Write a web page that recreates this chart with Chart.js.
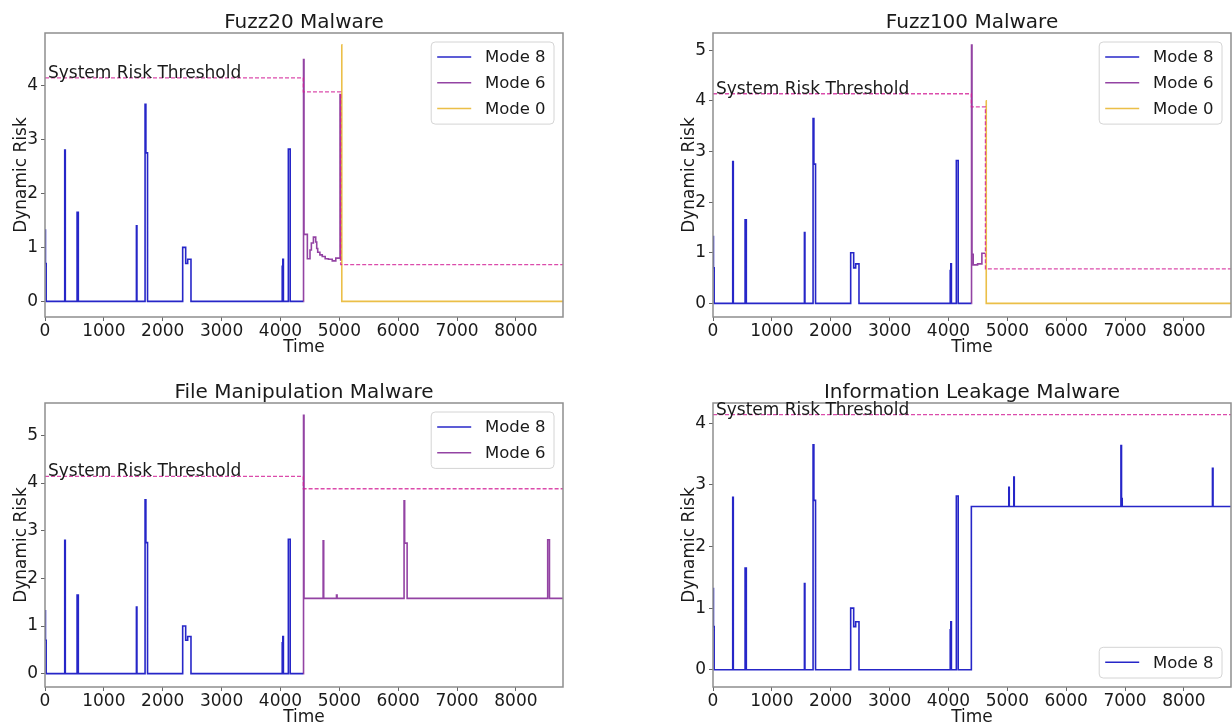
<!DOCTYPE html>
<html lang="en">
<head>
<meta charset="UTF-8">
<title>Dynamic Risk per Malware Type</title>
<script src="https://cdn.jsdelivr.net/npm/chart.js"></script>
<style>
  html, body { margin: 0; padding: 0; background: #fff; overflow: hidden; }
  .panel { position: absolute; width: 564px; height: 356px; }
</style>
</head>
<body>
<div class="panel" style="left:0;top:0"><canvas id="fuzz20" width="564" height="356"></canvas></div>
<div class="panel" style="left:668px;top:0"><canvas id="fuzz100" width="564" height="356"></canvas></div>
<div class="panel" style="left:0;top:370px"><canvas id="fileManip" width="564" height="356"></canvas></div>
<div class="panel" style="left:668px;top:370px"><canvas id="infoLeak" width="564" height="356"></canvas></div>

<script>
// --- shared axis settings ---
const xTicks = [0, 1000, 2000, 3000, 4000, 5000, 6000, 7000, 8000];
const xMax = 8800;

// --- Mode 8 trace, same for every run up to the mode switch (step values: y holds from t until next t) ---
const mode8T = [0, 8, 20, 335, 345, 545, 566, 1553, 1562, 1700, 1714, 1742, 2339, 2390, 2424, 2480, 4030, 4040, 4050, 4134, 4166, 4389];
const mode8Y = [1.32, 0.7, 0, 2.8, 0, 1.65, 0, 1.4, 0, 3.65, 2.75, 0, 1.0, 0.7, 0.78, 0, 0.65, 0.78, 0, 2.82, 0, 0];

// --- Fuzz20 ---
const fuzz20Mode6T = [4389, 4392, 4400, 4457, 4502, 4525, 4560, 4599, 4616, 4633, 4670, 4710, 4760, 4815, 4880, 4940, 5012, 5022];
const fuzz20Mode6Y = [0, 4.48, 1.24, 0.79, 0.95, 1.08, 1.19, 1.1, 0.98, 0.91, 0.86, 0.83, 0.79, 0.78, 0.75, 0.8, 3.83, 0.75];
const fuzz20Mode0T = [5034, 5042, 8800];
const fuzz20Mode0Y = [4.75, 0, 0];
const fuzz20ThreshT = [0, 4389, 5022, 8800];
const fuzz20ThreshY = [4.14, 3.88, 0.68, 0.68];

// --- Fuzz100 ---
const fuzz100Mode6T = [4389, 4392, 4400, 4420, 4495, 4568, 4622];
const fuzz100Mode6Y = [0, 5.1, 0.97, 0.76, 0.78, 0.99, 0.99];
const fuzz100Mode0T = [4634, 4642, 8800];
const fuzz100Mode0Y = [4.0, 0, 0];
const fuzz100ThreshT = [0, 4389, 4628, 8800];
const fuzz100ThreshY = [4.14, 3.88, 0.68, 0.68];

// --- File manipulation ---
const fileMode6T = [4389, 4392, 4400, 4725, 4735, 4952, 4962, 6100, 6110, 6152, 8540, 8570, 8800];
const fileMode6Y = [0, 5.42, 1.58, 2.79, 1.58, 1.65, 1.58, 3.63, 2.74, 1.58, 2.81, 1.58, 1.58];
const fileThreshT = [0, 4389, 8800];
const fileThreshY = [4.14, 3.88, 3.88];

// --- Information leakage: Mode 8 keeps running after 4389 ---
const leakTailT = [4389, 5025, 5033, 5110, 5118, 6930, 6940, 6952, 8485, 8495, 8800];
const leakTailY = [2.65, 2.96, 2.65, 3.13, 2.65, 3.64, 2.78, 2.65, 3.27, 2.65, 2.65];
const leakThreshT = [0, 8800];
const leakThreshY = [4.14, 4.14];

const MODE8 = 'rgba(0, 0, 190, 0.85)';
const MODE6 = 'rgba(120, 20, 140, 0.8)';
const MODE0 = 'rgba(232, 180, 40, 0.85)';
const THRESH = 'rgba(210, 30, 150, 0.8)';
const FONT = '"DejaVu Sans", sans-serif';
const TEXT = '#1a1a1a';

Chart.defaults.font.family = FONT;

function pts(t, y) {
  return t.map((v, i) => ({ x: v, y: y[i] }));
}

function series(label, t, y, color, order) {
  return { label, data: pts(t, y), borderColor: color, borderWidth: 1.6, stepped: true,
           pointRadius: 0, fill: false, order };
}

function threshold(t, y) {
  return { label: 'threshold', data: pts(t, y), borderColor: THRESH, borderWidth: 1.3,
           borderDash: [4, 2], stepped: true, pointRadius: 0, fill: false, order: 0 };
}

// frame, title, threshold caption and in-axes legend
const panelDecor = {
  id: 'panelDecor',
  afterDatasetsDraw(chart, args, opts) {
    const { ctx, chartArea: a, scales } = chart;
    ctx.save();
    ctx.strokeStyle = '#8e8e8e';
    ctx.lineWidth = 1.5;
    ctx.strokeRect(a.left, a.top, a.right - a.left, a.bottom - a.top);

    ctx.fillStyle = TEXT;
    ctx.font = '20px ' + FONT;
    ctx.textAlign = 'center';
    ctx.textBaseline = 'alphabetic';
    ctx.fillText(opts.title, (a.left + a.right) / 2, a.top - 5);

    ctx.font = '17px ' + FONT;
    ctx.textAlign = 'left';
    ctx.fillText('System Risk Threshold', a.left + 3, scales.y.getPixelForValue(4.14));

    const items = chart.data.datasets.filter(d => d.label !== 'threshold')
      .sort((p, q) => q.order - p.order);
    ctx.font = '16.5px ' + FONT;
    const textW = Math.max(...items.map(d => ctx.measureText(d.label).width));
    const w = 6 + 34 + 13.7 + textW + 8.4;
    const rowH = 25.7;
    const h = items.length * rowH + 5;
    const left = a.right - 9 - w;
    const top = opts.legendBottom ? a.bottom - 9 - h : a.top + 9;
    ctx.beginPath();
    ctx.roundRect(left, top, w, h, 4);
    ctx.fillStyle = 'rgba(255,255,255,0.85)';
    ctx.fill();
    ctx.strokeStyle = '#d4d4d4';
    ctx.lineWidth = 1;
    ctx.stroke();
    ctx.textBaseline = 'middle';
    items.forEach((d, i) => {
      const cy = top + 15 + i * rowH;
      ctx.beginPath();
      ctx.moveTo(left + 6, cy);
      ctx.lineTo(left + 40, cy);
      ctx.strokeStyle = d.borderColor;
      ctx.lineWidth = 1.5;
      ctx.stroke();
      ctx.fillStyle = TEXT;
      ctx.fillText(d.label, left + 53.7, cy + 1);
    });
    ctx.restore();
  }
};

function makePanel(id, title, yMin, yMax, yTicks, datasets, legendBottom) {
  new Chart(document.getElementById(id), {
    type: 'line',
    data: { datasets },
    plugins: [panelDecor],
    options: {
      responsive: false,
      animation: false,
      events: [],
      layout: { padding: { top: 33, right: 1, left: 0, bottom: 0 } },
      plugins: {
        legend: { display: false },
        tooltip: { enabled: false },
        panelDecor: { title, legendBottom }
      },
      scales: {
        x: {
          type: 'linear', min: 0, max: xMax,
          afterBuildTicks: s => { s.ticks = xTicks.map(v => ({ value: v })); },
          afterFit: s => { s.height = 39; },
          grid: { drawOnChartArea: false, tickLength: 4, color: '#666' },
          border: { display: false },
          ticks: { font: { size: 17 }, color: TEXT, padding: 0, maxRotation: 0, autoSkip: false,
                   callback: v => String(v) },
          title: { display: true, text: 'Time', color: TEXT, font: { size: 17, lineHeight: 1 },
                   padding: { top: 0, bottom: 0 } }
        },
        y: {
          type: 'linear', min: yMin, max: yMax,
          afterBuildTicks: s => { s.ticks = yTicks.map(v => ({ value: v })); },
          afterFit: s => { s.width = 45; },
          grid: { drawOnChartArea: false, tickLength: 4, color: '#666' },
          border: { display: false },
          ticks: { font: { size: 17 }, color: TEXT, padding: 3, callback: v => String(v) },
          title: { display: true, text: 'Dynamic Risk', color: TEXT, font: { size: 17, lineHeight: 1 },
                   padding: { top: 13, bottom: 0 } }
        }
      }
    }
  });
}

makePanel('fuzz20', 'Fuzz20 Malware', -0.29, 4.97, [0, 1, 2, 3, 4], [
  threshold(fuzz20ThreshT, fuzz20ThreshY),
  series('Mode 0', fuzz20Mode0T, fuzz20Mode0Y, MODE0, 1),
  series('Mode 6', fuzz20Mode6T, fuzz20Mode6Y, MODE6, 2),
  series('Mode 8', mode8T, mode8Y, MODE8, 3)
], false);

makePanel('fuzz100', 'Fuzz100 Malware', -0.27, 5.34, [0, 1, 2, 3, 4, 5], [
  threshold(fuzz100ThreshT, fuzz100ThreshY),
  series('Mode 0', fuzz100Mode0T, fuzz100Mode0Y, MODE0, 1),
  series('Mode 6', fuzz100Mode6T, fuzz100Mode6Y, MODE6, 2),
  series('Mode 8', mode8T, mode8Y, MODE8, 3)
], false);

makePanel('fileManip', 'File Manipulation Malware', -0.28, 5.68, [0, 1, 2, 3, 4, 5], [
  threshold(fileThreshT, fileThreshY),
  series('Mode 6', fileMode6T, fileMode6Y, MODE6, 2),
  series('Mode 8', mode8T, mode8Y, MODE8, 3)
], false);

makePanel('infoLeak', 'Information Leakage Malware', -0.28, 4.33, [0, 1, 2, 3, 4], [
  threshold(leakThreshT, leakThreshY),
  series('Mode 8', mode8T.concat(leakTailT), mode8Y.concat(leakTailY), MODE8, 3)
], true);
</script>
</body>
</html>
